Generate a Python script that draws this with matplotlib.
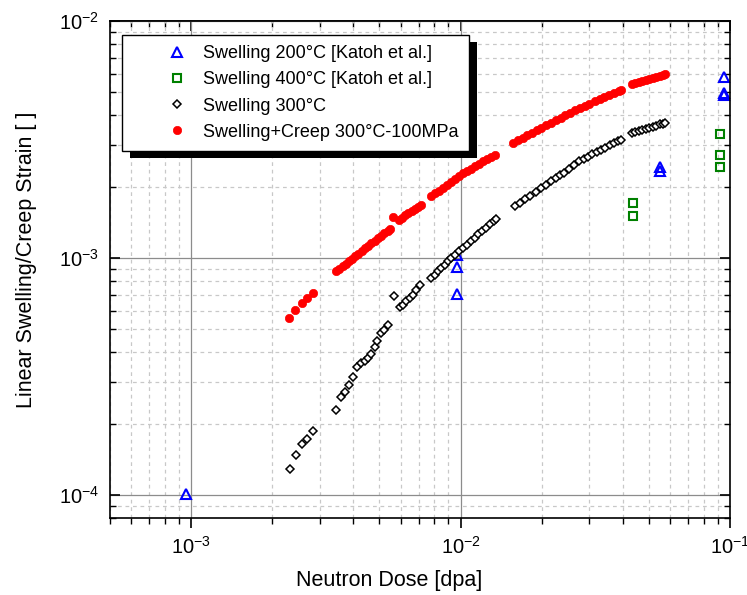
import matplotlib
matplotlib.use("Agg")
import matplotlib.pyplot as plt
from matplotlib.patches import Rectangle
from matplotlib.transforms import IdentityTransform
from matplotlib.ticker import LogLocator, NullFormatter

# Katoh et al. data, 200 C (dose in dpa, linear swelling)
dose_200C = [9.6e-4, 9.7e-3, 9.7e-3, 9.7e-3, 0.0551, 0.0551, 0.0953, 0.0953, 0.0953]
swell_200C = [1.01e-4, 1.03e-3, 9.2e-4, 7.06e-4, 2.43e-3, 2.32e-3, 5.78e-3, 4.99e-3, 4.85e-3]

# Katoh et al. data, 400 C
dose_400C = [0.0436, 0.0436, 0.0916, 0.0916, 0.0916]
swell_400C = [1.71e-3, 1.51e-3, 3.32e-3, 2.71e-3, 2.42e-3]

# simulated swelling 300 C (values in units of 1e-3)
dose_300C = [2.32, 2.45, 2.58, 2.70, 2.84, 3.46, 3.61, 3.73, 3.86, 4.00, 4.14, 4.28,
             4.43, 4.53, 4.66, 4.80, 4.91, 5.05, 5.22, 5.38, 5.64, 5.94, 6.11, 6.29,
             6.47, 6.66, 6.85, 7.05, 7.78, 8.01, 8.24, 8.48, 8.72, 8.98,
             9.24, 9.55, 9.87, 10.2, 10.54, 10.9, 11.27, 11.65, 12.04, 12.45, 12.87,
             13.3, 13.57,
             15.87, 16.6, 17.35, 18.15, 19.0, 19.95, 20.8, 21.7, 22.6, 23.45, 24.27,
             25.3, 26.4, 27.55, 28.6, 29.7, 30.85, 32.05, 33.3, 34.5, 35.8, 37.1,
             38.3, 39.52,
             43.1, 44.4, 45.8, 47.2, 48.6, 50.1, 51.6, 53.2, 54.8, 56.3, 57.2]
swell_300C = [0.129, 0.148, 0.164, 0.172, 0.186, 0.228, 0.260, 0.273, 0.290, 0.314,
              0.348, 0.362, 0.368, 0.378, 0.394, 0.423, 0.445, 0.482, 0.498, 0.523,
              0.693, 0.621, 0.635, 0.656, 0.678, 0.700, 0.735, 0.766, 0.823, 0.850,
              0.878, 0.907, 0.937, 0.968,
              1.000, 1.033, 1.067, 1.102, 1.139, 1.177, 1.216, 1.257, 1.298, 1.341,
              1.386, 1.432, 1.46,
              1.65, 1.709, 1.770, 1.834, 1.901, 1.975, 2.038, 2.104, 2.170, 2.231,
              2.29, 2.375, 2.466, 2.56, 2.618, 2.678, 2.739, 2.803, 2.868, 2.926,
              2.988, 3.049, 3.104, 3.16,
              3.37, 3.404, 3.441, 3.477, 3.512, 3.549, 3.585, 3.622, 3.660, 3.694, 3.71]

# simulated swelling + creep 300 C, 100 MPa (units of 1e-3)
dose_creep = [2.31, 2.44, 2.57, 2.70, 2.84,
              3.46, 3.55, 3.65, 3.75, 3.85, 3.96, 4.07, 4.18, 4.30, 4.42, 4.54, 4.67,
              4.80, 4.94, 5.08, 5.22, 5.36, 5.45, 5.61,
              5.89, 6.05, 6.22, 6.40, 6.58, 6.76, 6.95, 7.14,
              7.78, 8.05, 8.33, 8.62, 8.92, 9.23, 9.55, 9.88, 10.22, 10.58, 10.95,
              11.33, 11.72, 12.13, 12.55, 12.95, 13.37,
              15.65, 16.3, 17.0, 17.7, 18.45, 19.2, 19.95, 20.8, 21.65, 22.55, 23.5,
              24.5, 25.5, 26.6, 27.7, 28.85, 30.0, 31.45, 32.8, 34.2, 35.6, 37.1,
              38.6, 39.5,
              43.1, 44.4, 45.8, 47.2, 48.6, 50.1, 51.6, 53.2, 54.8, 56.3, 57.2]
strain_creep = [0.560, 0.603, 0.643, 0.678, 0.713,
                0.879, 0.900, 0.923, 0.946, 0.968, 0.993, 1.018, 1.043, 1.070, 1.097,
                1.124, 1.153, 1.182, 1.213, 1.244, 1.275, 1.306, 1.326, 1.49,
                1.452, 1.482, 1.513, 1.546, 1.579, 1.612, 1.646, 1.68,
                1.82, 1.872, 1.926, 1.981, 2.037, 2.096, 2.155, 2.217, 2.274, 2.329,
                2.383, 2.439, 2.496, 2.555, 2.615, 2.672, 2.73,
                3.06, 3.136, 3.216, 3.295, 3.378, 3.459, 3.54, 3.629, 3.718, 3.810,
                3.905, 4.004, 4.10, 4.196, 4.288, 4.382, 4.475, 4.59, 4.687, 4.785,
                4.882, 4.983, 5.082, 5.14,
                5.40, 5.455, 5.514, 5.571, 5.627, 5.686, 5.744, 5.804, 5.864, 5.918, 5.95]

LABELS = ["Swelling 200°C [Katoh et al.]",
          "Swelling 400°C [Katoh et al.]",
          "Swelling 300°C",
          "Swelling+Creep 300°C-100MPa"]

plt.rcParams['font.family'] = ['Liberation Sans', 'DejaVu Sans']
plt.rcParams['mathtext.fontset'] = 'custom'
plt.rcParams['mathtext.rm'] = 'Liberation Sans'
plt.rcParams['mathtext.it'] = 'Liberation Sans:italic'
plt.rcParams['mathtext.bf'] = 'Liberation Sans:bold'

fig = plt.figure(figsize=(7.47, 5.95), dpi=100)
ax = fig.add_axes([110 / 747, 1 - 518 / 595, 620 / 747, 497 / 595])
ax.set_xscale('log')
ax.set_yscale('log')

ax.plot(dose_200C, swell_200C, ls='none', marker='^', ms=7.5, mfc='none',
        mec='#0000ff', mew=1.5, label=LABELS[0])
ax.plot(dose_400C, swell_400C, ls='none', marker='s', ms=6, mfc='none',
        mec='#008000', mew=1.5, label=LABELS[1])
ax.plot([d * 1e-3 for d in dose_300C], [s * 1e-3 for s in swell_300C], ls='none',
        marker='D', ms=4.2, mfc='white', mec='black', mew=1.1, label=LABELS[2])
ax.plot([d * 1e-3 for d in dose_creep], [s * 1e-3 for s in strain_creep], ls='none',
        marker='o', ms=6, mfc='#ff0000', mec='#ff0000', mew=0.5, label=LABELS[3])

ax.set_xlim(5e-4, 0.1)
ax.set_ylim(8e-5, 1e-2)

for axis in (ax.xaxis, ax.yaxis):
    axis.set_major_locator(LogLocator(base=10, numticks=10))
    axis.set_minor_locator(LogLocator(base=10, subs=range(2, 10), numticks=30))
    axis.set_minor_formatter(NullFormatter())

ax.grid(which='major', color='#8c8c8c', lw=0.9, ls='-')
ax.grid(which='minor', color='#c8c8c8', lw=0.9, ls=(0, (3, 3)))
ax.set_axisbelow(True)

ax.tick_params(axis='x', which='both', direction='out', top=False, bottom=True)
ax.tick_params(axis='y', which='both', direction='in', left=True, right=True)
ax.tick_params(which='major', length=7, width=1.2, labelsize=14.5)
ax.tick_params(which='minor', length=4, width=1.0)
ax.tick_params(axis='y', pad=8)
ax.tick_params(axis='x', pad=6)
for sp in ax.spines.values():
    sp.set_linewidth(1.2)

top = ax.secondary_xaxis('top')
top.xaxis.set_major_locator(LogLocator(base=10, numticks=10))
top.xaxis.set_minor_locator(LogLocator(base=10, subs=range(2, 10), numticks=30))
top.xaxis.set_major_formatter(NullFormatter())
top.xaxis.set_minor_formatter(NullFormatter())
top.tick_params(which='both', direction='in', labeltop=False)
top.tick_params(which='major', length=7, width=1.2)
top.tick_params(which='minor', length=4, width=1.0)
top.spines['top'].set_linewidth(1.2)

ax.set_xlabel('Neutron Dose [dpa]', fontsize=15.5)
ax.xaxis.set_label_coords(0.45, -0.105)
ax.set_ylabel('Linear Swelling/Creep Strain [ ]', fontsize=15.5)
ax.yaxis.set_label_coords(-0.118, 0.52)

leg = ax.legend(loc='upper left', bbox_to_anchor=(12 / 620, (518 - 35) / 497),
                borderaxespad=0, fancybox=False, framealpha=1, edgecolor='black',
                fontsize=13, numpoints=1, handlelength=4.97, handletextpad=-1.05,
                borderpad=0.56, labelspacing=0.51)
leg.get_frame().set_linewidth(1.0)

# drop shadow behind the legend box
fig.canvas.draw()
bb = leg.get_window_extent()
shadow = Rectangle((bb.x0 + 8, bb.y0 - 7), bb.width, bb.height,
                   transform=IdentityTransform(), facecolor='black',
                   edgecolor='none', zorder=4.5, clip_on=False)
ax.add_artist(shadow)

fig.savefig('out.png', dpi=100)
